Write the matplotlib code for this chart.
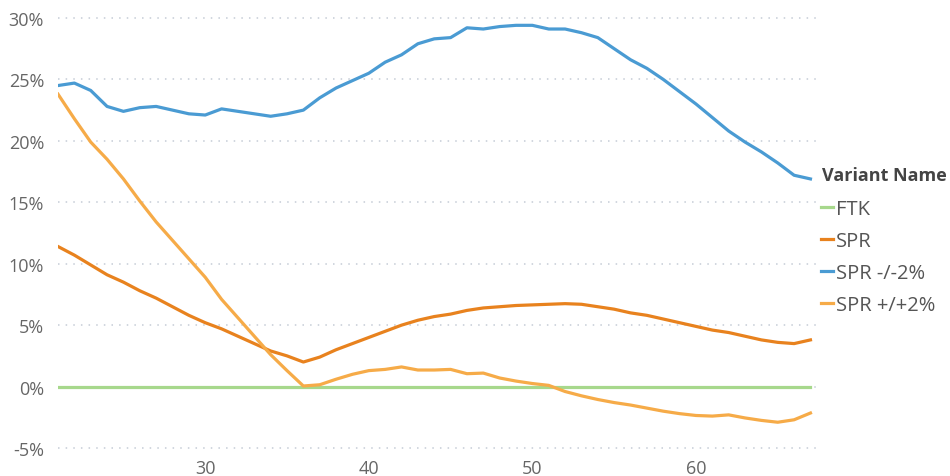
import matplotlib.pyplot as plt
from matplotlib.ticker import FuncFormatter

# Data (percent values)
age = list(range(21, 68))

ftk = [0.0] * len(age)

spr = [11.4, 10.7, 9.9, 9.1, 8.5, 7.8, 7.2, 6.5, 5.8, 5.2,
       4.7, 4.1, 3.5, 2.9, 2.5, 2.0, 2.4, 3.0, 3.5, 4.0,
       4.5, 5.0, 5.4, 5.7, 5.9, 6.2, 6.4, 6.5, 6.6, 6.65,
       6.7, 6.75, 6.7, 6.5, 6.3, 6.0, 5.8, 5.5, 5.2, 4.9,
       4.6, 4.4, 4.1, 3.8, 3.6, 3.5, 3.8]

spr_minus = [24.5, 24.7, 24.1, 22.8, 22.4, 22.7, 22.8, 22.5, 22.2, 22.1,
             22.6, 22.4, 22.2, 22.0, 22.2, 22.5, 23.5, 24.3, 24.9, 25.5,
             26.4, 27.0, 27.9, 28.3, 28.4, 29.2, 29.1, 29.3, 29.4, 29.4,
             29.1, 29.1, 28.8, 28.4, 27.5, 26.6, 25.9, 25.0, 24.0, 23.0,
             21.9, 20.8, 19.9, 19.1, 18.2, 17.2, 16.9]

spr_plus = [23.8, 21.8, 19.9, 18.5, 16.9, 15.1, 13.4, 11.9, 10.4, 8.9,
            7.1, 5.6, 4.1, 2.6, 1.3, 0.05, 0.15, 0.6, 1.0, 1.3,
            1.4, 1.6, 1.35, 1.35, 1.4, 1.05, 1.1, 0.7, 0.45, 0.25,
            0.1, -0.4, -0.75, -1.05, -1.3, -1.5, -1.75, -2.0, -2.2, -2.35,
            -2.4, -2.3, -2.55, -2.75, -2.9, -2.7, -2.15]

series_names = ["FTK", "SPR", "SPR -/-2%", "SPR +/+2%"]
series_colors = ["#a7d88c", "#e8821e", "#4a9bd3", "#f6ab48"]
y_ticks = [-5, 0, 5, 10, 15, 20, 25, 30]
x_ticks = [30, 40, 50, 60]

plt.rcParams['font.family'] = ['Open Sans', 'DejaVu Sans']

fig = plt.figure(figsize=(9.5, 4.77), dpi=100)
ax = fig.add_axes([58 / 950, 1 - 451.5 / 477, (817 - 58) / 950, (451.5 - 16.5) / 477])

for values, name, color in zip([ftk, spr, spr_minus, spr_plus], series_names, series_colors):
    ax.plot(age, values, color=color, linewidth=2.3, label=name, solid_joinstyle='round')

ax.set_xlim(21, 67.4)
ax.set_ylim(-5.2, 30.2)
ax.set_xticks(x_ticks)
ax.set_yticks(y_ticks)
ax.yaxis.set_major_formatter(FuncFormatter(lambda v, p: f"{v:.0f}%"))

ax.grid(axis='y', color='#c5ccd6', linestyle=(0, (1, 4)), linewidth=1.1)
ax.set_axisbelow(True)
for s in ax.spines.values():
    s.set_visible(False)
ax.tick_params(length=0, labelsize=13, colors='#666666')
ax.tick_params(axis='y', pad=10)
ax.tick_params(axis='x', pad=6)

# legend title drawn separately so the gap to the first entry matches
fig.text(822 / 950, 1 - 176 / 477, 'Variant Name', ha='left', va='center',
         fontsize=13, fontweight='bold', color='#444444')
leg = fig.legend(loc='upper left', bbox_to_anchor=(821 / 950, 1 - 200 / 477),
                 frameon=False, fontsize=14.5, handlelength=0.6, handletextpad=0.15,
                 labelspacing=0.6, borderpad=0, borderaxespad=0)
for t in leg.get_texts():
    t.set_color('#555555')

plt.savefig('out.png', dpi=100)
